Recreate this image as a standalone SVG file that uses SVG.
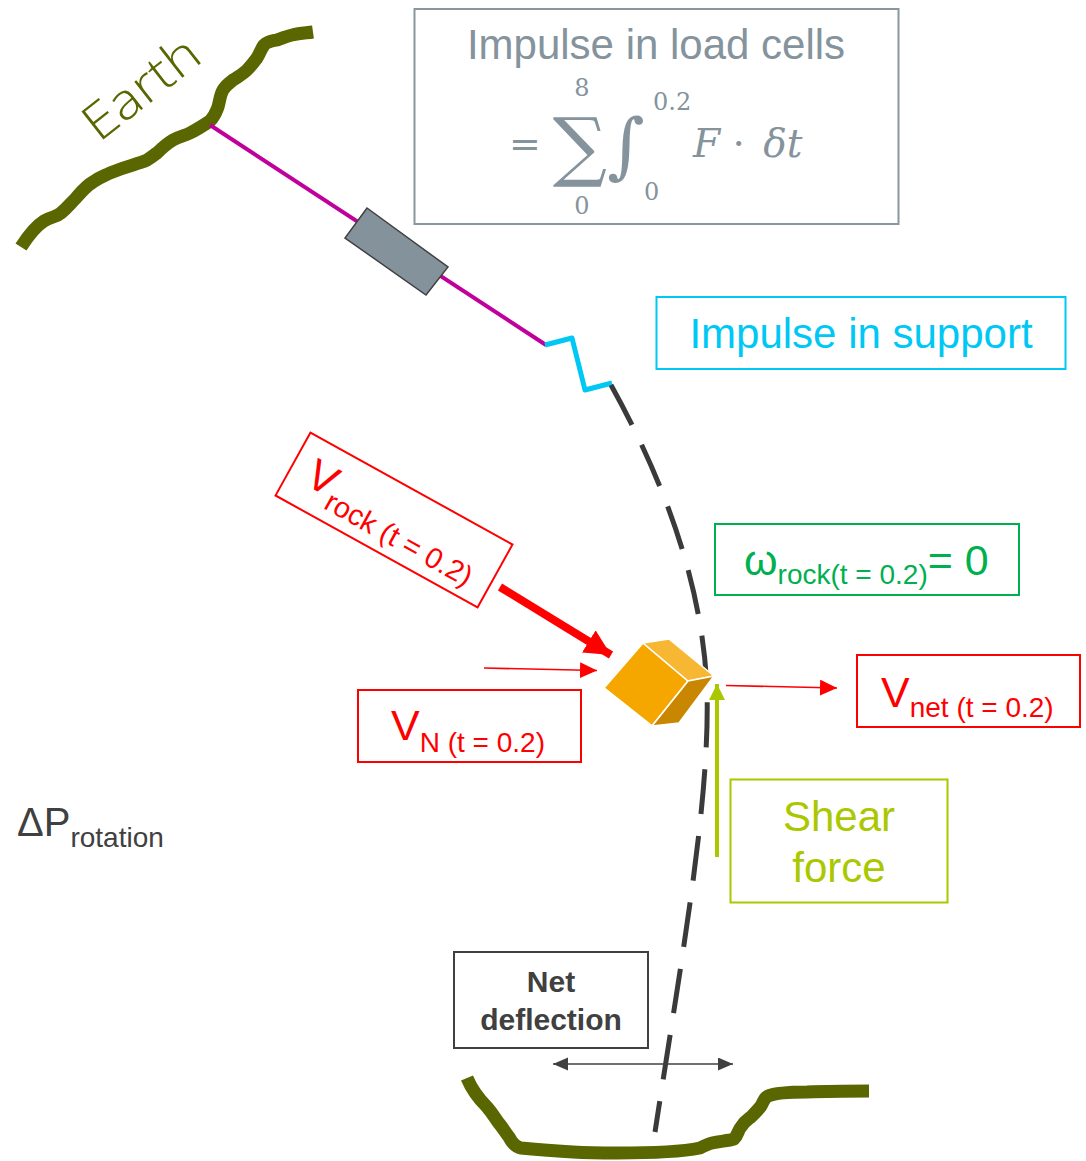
<svg xmlns="http://www.w3.org/2000/svg" width="1086" height="1161" viewBox="0 0 1086 1161">
  <defs>
    <style>
      .sans { font-family: "Liberation Sans", Arial, sans-serif; }
      .serif { font-family: "DejaVu Serif", "Liberation Serif", serif; }
      .ground { fill: none; stroke: #5a6600; stroke-width: 13; stroke-linejoin: round; stroke-linecap: butt; }
      .box { fill: #ffffff; stroke-width: 2; }
      .red { fill: #ff0000; }
    </style>
    <marker id="headBig" markerUnits="userSpaceOnUse" markerWidth="30" markerHeight="30" refX="26" refY="13" orient="auto">
      <path d="M0,0 L26,13 L0,26 Z" fill="#ff0000"/>
    </marker>
    <marker id="headRed" markerUnits="userSpaceOnUse" markerWidth="20" markerHeight="20" refX="17" refY="8" orient="auto">
      <path d="M0,0 L17,8 L0,16 Z" fill="#ff0000"/>
    </marker>
    <marker id="headGreen" markerUnits="userSpaceOnUse" markerWidth="20" markerHeight="20" refX="16" refY="8" orient="auto">
      <path d="M0,0 L16,8 L0,16 Z" fill="#aac800"/>
    </marker>
    <marker id="headDark" markerUnits="userSpaceOnUse" markerWidth="18" markerHeight="18" refX="15" refY="6.5" orient="auto-start-reverse">
      <path d="M0,0 L15,6.5 L0,13 Z" fill="#404040"/>
    </marker>
  </defs>

  <rect width="1086" height="1161" fill="#ffffff"/>

  <!-- upper rock face -->
  <g id="earth-top">
    <path class="ground" d="M21,247 C28,236 36,226 44,221 C52,216 55,218 61,213 C67,208 70,204 76,198 C82,191 86,186 93,182 C100,177 104,176 110,173 C120,169 126,167 133,165 C140,162 144,162 147,160 C152,157 154,155 157,153 C164,146 168,143 173,140 C180,136 184,136 190,133 C198,129 204,125 210,121 C215,116 216,112 218,107 C220,100 220,95 223,90 C226,85 229,83 233,80 C239,76 243,74 247,70 C252,65 254,62 257,58 C260,53 261,49 264,45 C268,41 272,41 277,40 C283,38 287,36 292,35 C300,33 306,33 313,32"/>
    <text transform="translate(99,143) rotate(-38)" font-family="'Open Sans', Lato, 'DejaVu Sans', sans-serif" font-size="50" font-weight="300" fill="#5a6600" textLength="134" lengthAdjust="spacingAndGlyphs">Earth</text>
  </g>

  <!-- lower rock face -->
  <g id="earth-bottom">
    <path class="ground" d="M467,1078 C472,1090 478,1098 487,1107 C493,1114 495,1118 498,1122 C503,1128 505,1132 509,1137 C512,1143 515,1147 521,1148 C540,1150 556,1151 573,1152 C590,1153 605,1153 617,1153 C650,1153 680,1152 700,1148 C706,1145 708,1144 712,1143 C720,1141 728,1141 734,1139 C738,1135 738,1130 741,1127 C745,1121 747,1120 751,1117 C756,1112 758,1110 761,1106 C764,1101 764,1098 768,1096 C775,1093 790,1092 807,1092 C830,1091 850,1091 869,1091"/>
  </g>

  <!-- anchor cable: tendon, load cell and support spring -->
  <g id="cable">
    <line x1="210" y1="125" x2="546" y2="345" stroke="#c0009a" stroke-width="4"/>
    <polygon id="load-cell" points="367,208 448,267 426,295 345,238" fill="#84929c" stroke="#404040" stroke-width="1.5"/>
    <polyline id="support-spring" points="545,345 572,338 585,390 612,383" fill="none" stroke="#00c8f5" stroke-width="5" stroke-linejoin="round"/>
    <path id="deflected-support" d="M611,385 C668,488 703,590 707,690 C710,800 683,950 655,1132" fill="none" stroke="#3a3a3a" stroke-width="5" stroke-dasharray="45,22"/>
  </g>

  <!-- rock block -->
  <g id="rock" stroke="#ffffff" stroke-width="1.6" stroke-linejoin="round">
    <polygon points="604,688 643,643 688,681 652,726" fill="#f5a700"/>
    <polygon points="643,643 669,639 714,676 688,681" fill="#f8b733"/>
    <polygon points="688,681 714,676 679,723 652,726" fill="#c98600"/>
  </g>

  <!-- velocity and force arrows -->
  <g id="connectors" fill="none">
    <line x1="500" y1="587" x2="611" y2="655" stroke="#ff0000" stroke-width="8" marker-end="url(#headBig)"/>
    <line x1="484" y1="668" x2="597" y2="670.5" stroke="#ff0000" stroke-width="1.6" marker-end="url(#headRed)"/>
    <line x1="726" y1="685.5" x2="837" y2="688" stroke="#ff0000" stroke-width="1.6" marker-end="url(#headRed)"/>
    <line x1="717" y1="857" x2="717" y2="684" stroke="#aac800" stroke-width="4" marker-end="url(#headGreen)"/>
    <line x1="553" y1="1064" x2="733" y2="1064" stroke="#404040" stroke-width="1.6" marker-start="url(#headDark)" marker-end="url(#headDark)"/>
  </g>

  <!-- impulse in load cells -->
  <g id="impulse-load-cells" fill="#84939c">
    <rect class="box" x="414.5" y="9" width="484" height="215" stroke="#8a969e"/>
    <text class="sans" x="656" y="59" font-size="42" text-anchor="middle">Impulse in load cells</text>
    <text class="serif" x="525" y="157" font-size="38" text-anchor="middle">=</text>
    <text class="serif" x="580" y="172" font-size="76" text-anchor="middle">∑</text>
    <text class="serif" x="582" y="96" font-size="24" text-anchor="middle">8</text>
    <text class="serif" x="582" y="214" font-size="24" text-anchor="middle">0</text>
    <text class="serif" x="626" y="170" font-size="72" text-anchor="middle">∫</text>
    <text class="serif" x="653" y="110" font-size="24">0.2</text>
    <text class="serif" x="644" y="200" font-size="24">0</text>
    <text class="serif" x="693" y="157" font-size="39" font-style="italic">F <tspan font-style="normal">·</tspan> <tspan dx="6">δt</tspan></text>
  </g>

  <!-- impulse in support -->
  <g id="impulse-support">
    <rect class="box" x="656.5" y="297" width="409" height="72" stroke="#00c8f5"/>
    <text class="sans" x="861" y="348" font-size="42" text-anchor="middle" fill="#00c8f5">Impulse in support</text>
  </g>

  <!-- rock velocity label -->
  <g id="v-rock" transform="translate(394,520) rotate(29)">
    <rect class="box" x="-115.5" y="-36" width="231" height="72" stroke="#ff0000"/>
    <text class="sans red" x="-97" y="12" font-size="43">V<tspan font-size="29" dy="12">rock (t = 0.2)</tspan></text>
  </g>

  <!-- normal velocity label -->
  <g id="v-n">
    <rect class="box" x="358" y="690" width="223" height="72" stroke="#ff0000"/>
    <text class="sans red" x="391" y="740" font-size="43">V<tspan font-size="28" dy="12">N (t = 0.2)</tspan></text>
  </g>

  <!-- rotational velocity label -->
  <g id="omega-rock">
    <rect class="box" x="715" y="524" width="304" height="71" stroke="#00b050"/>
    <text class="sans" x="744" y="575" font-size="43" fill="#00b050">ω<tspan font-size="28" dy="9">rock(t = 0.2)</tspan><tspan dy="-9">= 0</tspan></text>
  </g>

  <!-- net velocity label -->
  <g id="v-net">
    <rect class="box" x="857" y="655" width="223" height="72" stroke="#ff0000"/>
    <text class="sans red" x="881" y="707" font-size="43">V<tspan font-size="28" dy="10">net (t = 0.2)</tspan></text>
  </g>

  <!-- shear force label -->
  <g id="shear-force" fill="#aac800">
    <rect class="box" x="730.5" y="779.5" width="217" height="123" stroke="#aac800"/>
    <text class="sans" x="839" y="831" font-size="42" text-anchor="middle">Shear</text>
    <text class="sans" x="839" y="882" font-size="42" text-anchor="middle">force</text>
  </g>

  <!-- rotational momentum change -->
  <g id="delta-p">
    <text class="sans" x="17" y="836" font-size="40" fill="#404040">ΔP<tspan font-size="28" dy="11">rotation</tspan></text>
  </g>

  <!-- net deflection label -->
  <g id="net-deflection" fill="#404040">
    <rect class="box" x="454" y="952" width="194" height="96" stroke="#404040" stroke-width="1.5"/>
    <text class="sans" x="551" y="992" font-size="30" font-weight="bold" text-anchor="middle">Net</text>
    <text class="sans" x="551" y="1030" font-size="30" font-weight="bold" text-anchor="middle">deflection</text>
  </g>
</svg>
